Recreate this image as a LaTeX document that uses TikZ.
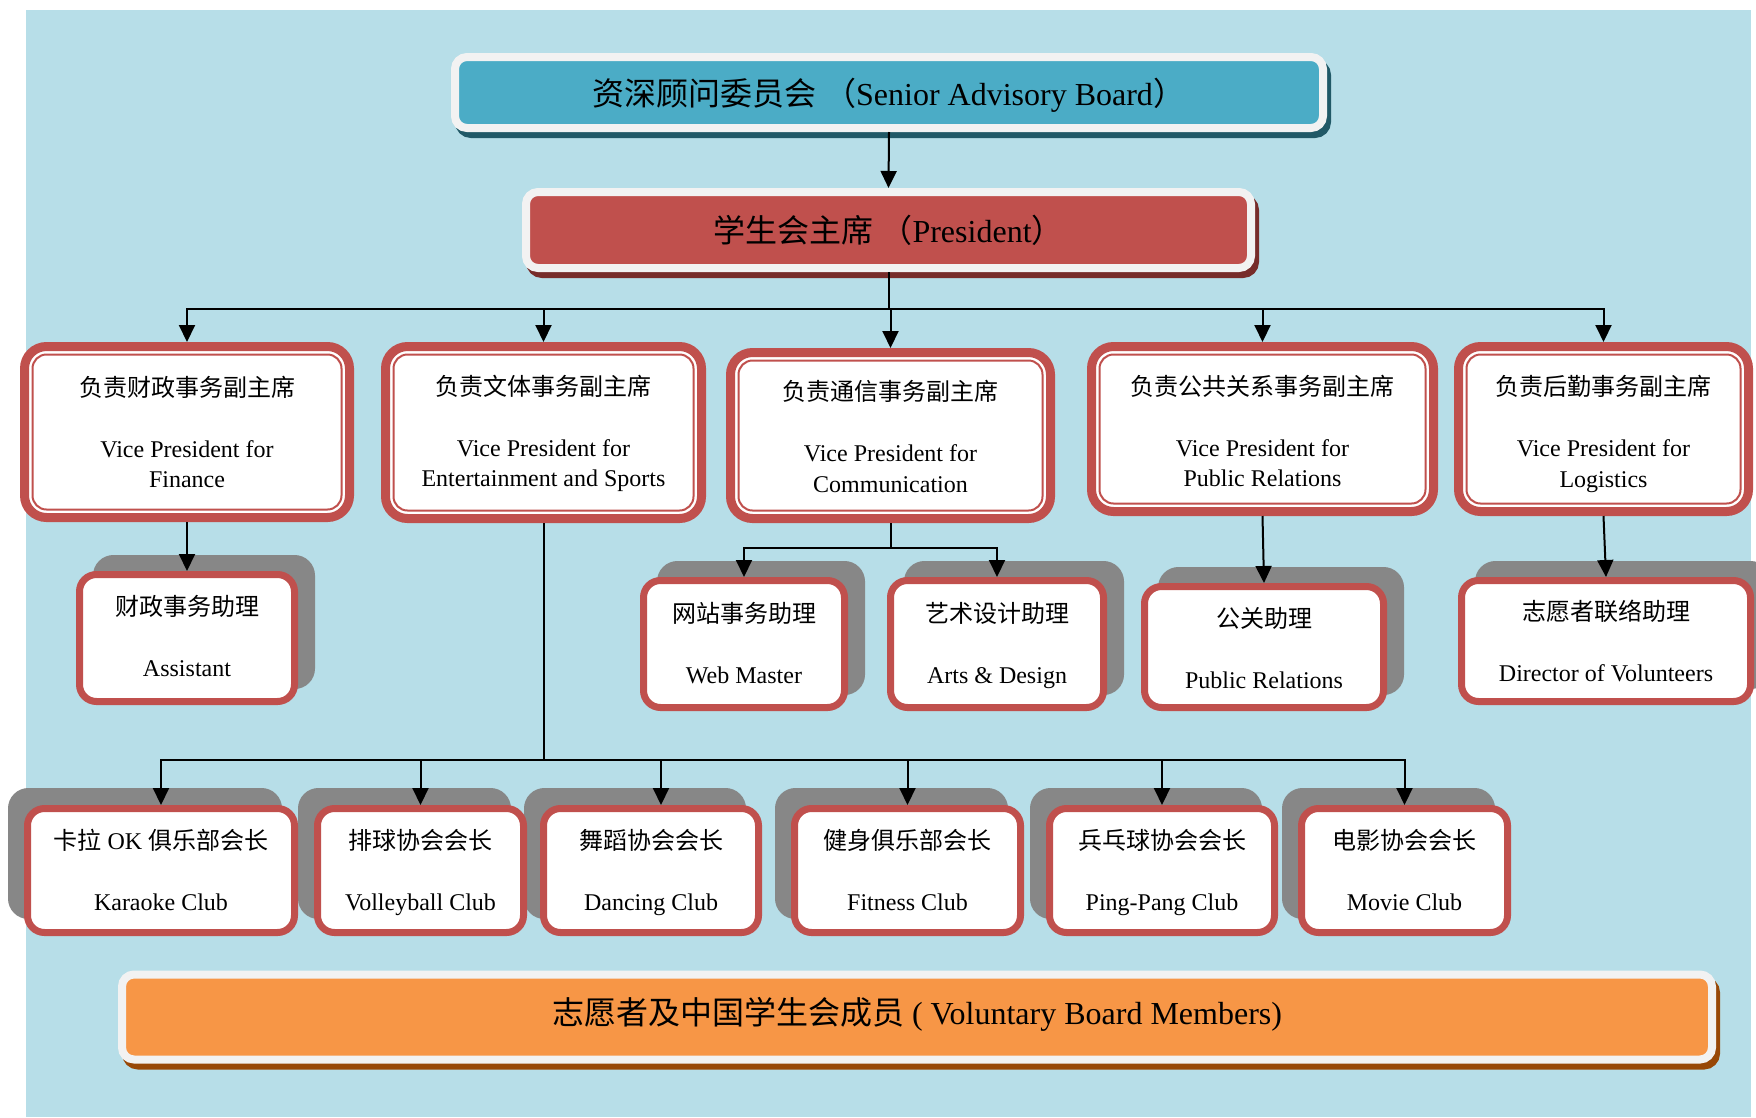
\documentclass[tikz,border=0pt]{standalone}
\usepackage{fontspec}
\setmainfont{Liberation Serif}
\newfontfamily\cjk{Noto Sans CJK SC}
\usetikzlibrary{shadows,arrows.meta}
\definecolor{bgc}{HTML}{B7DEE8}
\definecolor{tealc}{HTML}{4BACC6}
\definecolor{tealdk}{HTML}{215967}
\definecolor{redc}{HTML}{C0504D}
\definecolor{reddk}{HTML}{772C2A}
\definecolor{orangec}{HTML}{F79646}
\definecolor{orangedk}{HTML}{984807}
\definecolor{wb}{HTML}{F2F2F2}
\definecolor{shd}{HTML}{878787}
\newcommand\zh[1]{{\cjk #1}}
\newcommand\st{\rule[-7pt]{0pt}{29pt}}
\newcommand\tp[1]{\rule{0pt}{#1}}
\begin{document}
\begin{tikzpicture}[x=1pt,y=-1pt,
  topbox/.style={draw=wb, line width=8pt, rounded corners=12pt, inner sep=0pt,
    font=\fontsize{32}{38}\selectfont},
  topshadow/.style={drop shadow={shadow xshift=4pt, shadow yshift=-6pt, opacity=1,
    fill=#1, draw=#1, line width=8pt}},
  vpbox/.style={draw=redc, line width=9pt, fill=white, rounded corners=22pt,
    inner sep=0pt, align=center, font=\fontsize{24}{30.5}\selectfont},
  vpinner/.style={draw=redc, line width=2pt, rounded corners=14pt},
  asbox/.style={draw=redc, line width=7pt, fill=white, rounded corners=17pt,
    inner sep=0pt, align=center, font=\fontsize{24}{30.5}\selectfont},
  urshadow/.style={drop shadow={shadow xshift=17pt, shadow yshift=16pt, opacity=1,
    fill=shd, draw=shd, line width=7pt}},
  ulshadow/.style={drop shadow={shadow xshift=-16pt, shadow yshift=17pt, opacity=1,
    fill=shd, draw=shd, line width=7pt}},
  ln/.style={line width=2pt, draw=black},
  arr/.style={ln, -{Triangle[width=16pt,length=17pt]}}]

\useasboundingbox (0,0) rectangle (1756,1117);
\fill[bgc] (26,10) rectangle (1751,1117);

% top boxes
\node[topbox, fill=tealc, topshadow=tealdk, minimum width=868pt, minimum height=71pt]
  (sab) at (889,92.5) {\tp{33pt}\zh{资深顾问委员会 （}Senior Advisory Board\zh{）}};
\node[topbox, fill=redc, topshadow=reddk, minimum width=725pt, minimum height=76pt]
  (pres) at (888.5,230) {\zh{学生会主席 （}President\zh{）}};
\node[topbox, fill=orangec, topshadow=orangedk, minimum width=1590pt, minimum height=85pt]
  (vbm) at (917,1017) {\zh{志愿者及中国学生会成员} ( Voluntary Board Members)\rule[-11.5pt]{0pt}{1pt}};

% vice presidents
\node[vpbox, minimum width=325pt, minimum height=171pt] (vpfin) at (187,432)
  {\tp{26.5pt}\st\zh{负责财政事务副主席}\\[30.5pt]\st Vice President for\\\st Finance};
\node[vpbox, minimum width=316pt, minimum height=172pt] (vpent) at (543.5,432.5)
  {\tp{24pt}\st\zh{负责文体事务副主席}\\[30.5pt]\st Vice President for\\\st Entertainment and Sports};
\node[vpbox, minimum width=320pt, minimum height=166pt] (vpcom) at (890.5,435.5)
  {\tp{29pt}\st\zh{负责通信事务副主席}\\[30.5pt]\st Vice President for\\\st Communication};
\node[vpbox, minimum width=342pt, minimum height=165pt] (vppr) at (1262.5,429)
  {\tp{31pt}\st\zh{负责公共关系事务副主席}\\[30.5pt]\st Vice President for\\\st Public Relations};
\node[vpbox, minimum width=290pt, minimum height=165pt] (vplog) at (1603.5,429)
  {\tp{32pt}\st\zh{负责后勤事务副主席}\\[30.5pt]\st Vice President for\\\st Logistics};
\foreach \n in {vpfin,vpent,vpcom,vppr,vplog}
  \draw[vpinner] ([xshift=12.5pt,yshift=-12.5pt]\n.north west)
    rectangle ([xshift=-12.5pt,yshift=12.5pt]\n.south east);

% assistants
\node[asbox, urshadow, minimum width=215pt, minimum height=127pt] (fina) at (187,638)
  {\st\zh{财政事务助理}\\[30.5pt]\st Assistant};
\node[asbox, urshadow, minimum width=201pt, minimum height=127pt] (web) at (744,644)
  {\tp{24pt}\st\zh{网站事务助理}\\[30.5pt]\st Web Master};
\node[asbox, urshadow, minimum width=213pt, minimum height=127pt] (arts) at (997,644)
  {\tp{24pt}\st\zh{艺术设计助理}\\[30.5pt]\st Arts \& Design};
\node[asbox, urshadow, minimum width=239pt, minimum height=121pt] (pra) at (1264,647)
  {\tp{29pt}\st\zh{公关助理}\\[30.5pt]\st Public Relations};
\node[asbox, urshadow, minimum width=289pt, minimum height=121pt] (vol) at (1606,641)
  {\tp{27.5pt}\st\zh{志愿者联络助理}\\[30.5pt]\st Director of Volunteers};

% clubs (right to left so left boxes cover neighbouring shadows)
\node[asbox, ulshadow, minimum width=206pt, minimum height=124pt] (movie) at (1404.5,870.5)
  {\tp{26.5pt}\st\zh{电影协会会长}\\[30.5pt]\st Movie Club};
\node[asbox, ulshadow, minimum width=225pt, minimum height=124pt] (ping) at (1162,870.5)
  {\tp{26.5pt}\st\zh{兵乓球协会会长}\\[30.5pt]\st Ping-Pang Club};
\node[asbox, ulshadow, minimum width=226pt, minimum height=124pt] (fit) at (907.5,870.5)
  {\tp{26.5pt}\st\zh{健身俱乐部会长}\\[30.5pt]\st Fitness Club};
\node[asbox, ulshadow, minimum width=215pt, minimum height=124pt] (dance) at (651,870.5)
  {\tp{26.5pt}\st\zh{舞蹈协会会长}\\[30.5pt]\st Dancing Club};
\node[asbox, ulshadow, minimum width=206pt, minimum height=124pt] (volley) at (420.5,870.5)
  {\tp{26.5pt}\st\zh{排球协会会长}\\[30.5pt]\st Volleyball Club};
\node[asbox, ulshadow, minimum width=267pt, minimum height=124pt] (kara) at (161,870.5)
  {\tp{26.5pt}\st\zh{卡拉} OK \zh{俱乐部会长}\\[30.5pt]\st Karaoke Club};

% connectors
\draw[arr] (sab.south) -- (pres.north);
\coordinate (bus1) at (888.5,309);
\draw[ln] (pres.south) -- (bus1);
\foreach \n in {vpfin,vpent,vpcom,vppr,vplog}
  \draw[arr] (bus1) -| (\n.north);

\draw[arr] (vpfin.south) -- (fina.north);
\coordinate (bus2) at (890.5,548);
\draw[ln] (vpcom.south) -- (bus2);
\draw[arr] (bus2) -| (web.north);
\draw[arr] (bus2) -| (arts.north);
\draw[arr] (vppr.south) -- (pra.north);
\draw[arr] (vplog.south) -- (vol.north);

\coordinate (bus3) at (543.5,760);
\draw[ln] (vpent.south) -- (bus3);
\foreach \n in {kara,volley,fit,ping,movie}
  \draw[arr] (bus3) -| (\n.north);
\draw[arr] (bus3) -| ([xshift=10pt]dance.north);
\end{tikzpicture}
\end{document}
